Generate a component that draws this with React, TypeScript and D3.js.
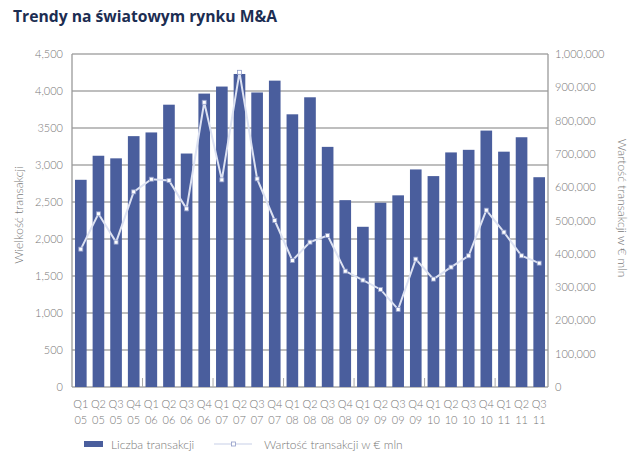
import React from "react";
import * as d3 from "d3";

const quarters = ["Q1","Q2","Q3","Q4","Q1","Q2","Q3","Q4","Q1","Q2","Q3","Q4","Q1","Q2","Q3","Q4","Q1","Q2","Q3","Q4","Q1","Q2","Q3","Q4","Q1","Q2","Q3"];
const years = ["05","05","05","05","06","06","06","06","07","07","07","07","08","08","08","08","09","09","09","09","10","10","10","10","11","11","11"];
const dealCount = [2800,3125,3090,3390,3440,3815,3155,3965,4060,4230,3980,4140,3685,3915,3245,2525,2165,2490,2590,2940,2850,3170,3205,3465,3180,3375,2835];
const dealValue = [414000,520000,435000,586000,624000,620000,535000,855000,622000,945000,625000,500000,380000,435000,455000,348000,321000,293000,233000,384000,324000,360000,394000,531000,465000,394000,372000];
const leftTicks = [0,500,1000,1500,2000,2500,3000,3500,4000,4500];
const leftTickLabels = ["0","500","1,000","1,500","2,000","2,500","3,000","3500","4,000","4,500"];
const rightTicks = [0,100000,200000,300000,400000,500000,600000,700000,800000,900000,1000000];
const rightTickLabels = ["0","100,000","200,000","300,000","400,000","500,000","600,000","700,000","800,000","900,000","1,000,000"];

const W = 640, H = 465;
const L = 72, R = 548, T = 54, B = 387;
const barColor = "#4a5e9d";
const lineColor = "#dde2f2";
const textColor = "#787878";
const font = "Lato, 'Open Sans', sans-serif";

export default function App() {
  const idx = dealCount.map((_, i) => String(i));
  const x = d3.scaleBand<string>().domain(idx).range([L, R]).paddingInner(0.34).paddingOuter(0.17);
  const yL = d3.scaleLinear().domain([0, 4500]).range([B, T]);
  const yR = d3.scaleLinear().domain([0, 1000000]).range([B, T]);
  const cx = (i: number) => (x(String(i)) as number) + x.bandwidth() / 2;
  const line = d3.line<number>().x((_, i) => cx(i)).y((d) => yR(d));
  const step = (R - L) / dealCount.length;

  return (
    <svg width={W} height={H} style={{ position: "absolute", left: 0, top: 0, background: "#fff" }} fontFamily={font} fontWeight={300}>
      <text x={13} y={22} fontSize={16.5} fontWeight={700} fill="#1c2d52" fontFamily="'Open Sans', sans-serif" textLength={264} lengthAdjust="spacingAndGlyphs">Trendy na światowym rynku M&amp;A</text>

      {leftTicks.map((t) => (
        <line key={"g" + t} x1={L} x2={R} y1={yL(t)} y2={yL(t)} stroke="#a9a9a9" strokeWidth={1.3} />
      ))}
      <line x1={L} x2={L} y1={T} y2={B} stroke="#9a9a9a" strokeWidth={1.3} />
      <line x1={R} x2={R} y1={T} y2={B} stroke="#9a9a9a" strokeWidth={1.3} />

      {dealCount.map((v, i) => (
        <rect key={"b" + i} x={x(String(i))} y={yL(v)} width={x.bandwidth()} height={B - yL(v)} fill={barColor} />
      ))}
      {[4, 8, 12, 16, 20, 24].map((k) => (
        <line key={"t" + k} x1={L + k * step} x2={L + k * step} y1={B} y2={B - 9} stroke="#a9a9a9" strokeWidth={1} />
      ))}

      <path d={line(dealValue) || ""} fill="none" stroke={lineColor} strokeWidth={2} />
      {dealValue.map((v, i) => (
        <rect key={"m" + i} x={cx(i) - 2} y={yR(v) - 2} width={4} height={4} fill="#ffffff" stroke="#8f9bc8" strokeWidth={0.8} />
      ))}

      {leftTicks.map((t, i) => (
        <text key={"lt" + t} x={63} y={yL(t) + 4} textAnchor="end" fontSize={11} fill={textColor}>{leftTickLabels[i]}</text>
      ))}
      {rightTicks.map((t, i) => (
        <text key={"rt" + t} x={555} y={yR(t) + 4} textAnchor="start" fontSize={11} fill={textColor}>{rightTickLabels[i]}</text>
      ))}

      {quarters.map((q, i) => (
        <g key={"x" + i}>
          <text x={cx(i)} y={408} textAnchor="middle" fontSize={11} fill={textColor}>{q}</text>
          <text x={cx(i)} y={424} textAnchor="middle" fontSize={11} fill={textColor}>{years[i]}</text>
        </g>
      ))}

      <text transform="translate(23,215) rotate(-90)" textAnchor="middle" fontSize={12} fill={textColor}>Wielkość transakcji</text>
      <text transform="translate(618,208) rotate(90)" textAnchor="middle" fontSize={12} fill={textColor}>Wartość transakcji w € mln</text>

      <rect x={84} y={441} width={19} height={6} fill={barColor} />
      <text x={111} y={449} fontSize={12} fill={textColor}>Liczba transakcji</text>
      <line x1={214} x2={252} y1={444} y2={444} stroke="#c8cfe8" strokeWidth={1.2} />
      <rect x={231.5} y={442} width={4} height={4} fill="#fff" stroke="#8f9bc8" strokeWidth={0.8} />
      <text x={264} y={449} fontSize={12} fill={textColor}>Wartość transakcji w € mln</text>
    </svg>
  );
}
